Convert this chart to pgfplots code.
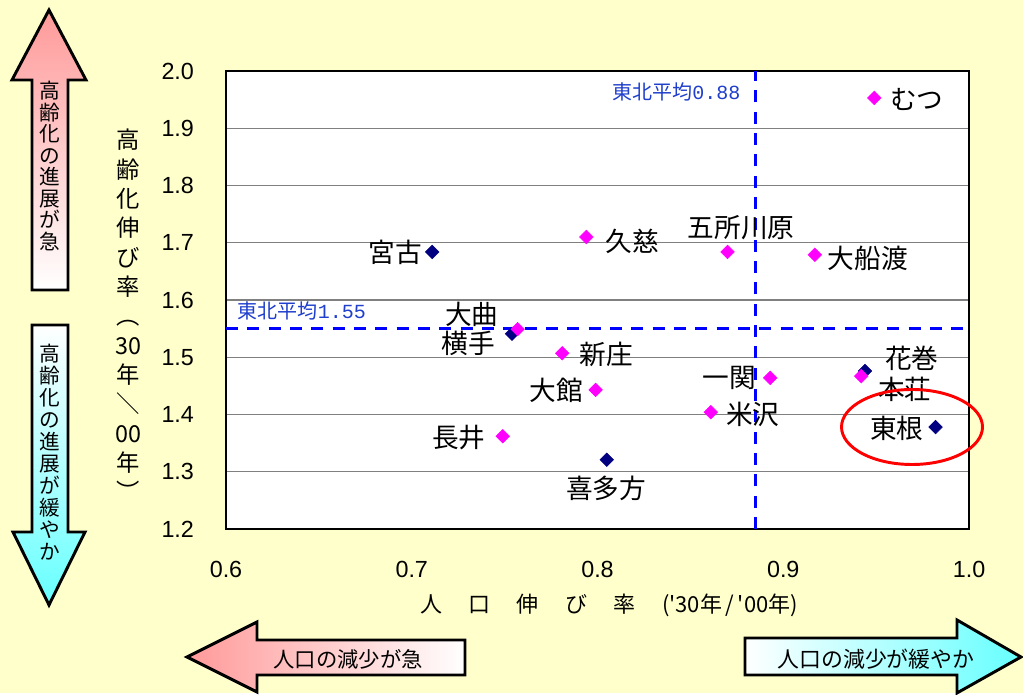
\documentclass[border=0pt]{standalone}
\usepackage{pgfplots}
\pgfplotsset{compat=1.18}
\usepackage{fontspec}
\setmainfont{Liberation Sans}
\newfontfamily\jp{Noto Sans CJK JP}
\newfontfamily\mono{Liberation Mono}
\definecolor{bgyellow}{HTML}{FFFFCC}
\definecolor{pinkA}{HTML}{FF9999}
\definecolor{cyanA}{HTML}{66FFFF}
\definecolor{magpt}{HTML}{FF00FF}
\definecolor{navypt}{HTML}{000080}
\definecolor{avgline}{HTML}{0000FF}
\definecolor{avgtext}{HTML}{1F3FCC}

% city data: population growth ratio vs. ageing growth ratio
\pgfplotstableread{
x      y
0.711  1.684
0.754  1.541
0.805  1.321
0.944  1.476
0.982  1.378
}\navycities
\pgfplotstableread{
x      y
0.949  1.953
0.794  1.710
0.870  1.684
0.917  1.679
0.757  1.549
0.781  1.507
0.799  1.443
0.749  1.362
0.893  1.464
0.861  1.404
0.942  1.467
}\magentacities

\begin{document}
\begin{tikzpicture}[x=0.75pt,y=0.75pt]
\fill[bgyellow] (0,0) rectangle (1023,693);

% direction arrows
\draw[line width=2.2pt, top color=pinkA, bottom color=white]
  (49,683) -- (86,613) -- (68,613) -- (68,403) -- (32,403) -- (32,613) -- (12,613) -- cycle;
\node[font=\jp\fontsize{15.5pt}{16.1pt}\selectfont, align=center] at (50,527)
  {高\\齢\\化\\の\\進\\展\\が\\急};
\draw[line width=2.2pt, top color=white, bottom color=cyanA]
  (32,368) -- (68,368) -- (68,161) -- (85,161) -- (49,88) -- (13,161) -- (32,161) -- cycle;
\node[font=\jp\fontsize{15.5pt}{16.5pt}\selectfont, align=center] at (50,241)
  {高\\齢\\化\\の\\進\\展\\が\\緩\\や\\か};
\draw[line width=2.2pt, left color=pinkA, right color=white]
  (187,36) -- (257,71) -- (257,53) -- (465,53) -- (465,18) -- (257,18) -- (257,1) -- cycle;
\node[font=\jp\fontsize{16pt}{17pt}\selectfont] at (348,34) {人口の減少が急};
\draw[line width=2.2pt, left color=white, right color=cyanA]
  (745,55) -- (957,55) -- (957,73) -- (1021,36) -- (957,0) -- (957,18) -- (745,18) -- cycle;
\node[font=\jp\fontsize{16.4pt}{17pt}\selectfont] at (876,34) {人口の減少が緩やか};

\begin{axis}[
  at={(169.5pt,123pt)}, anchor=south west,
  scale only axis, width=557.25pt, height=343.5pt,
  xmin=0.6, xmax=1.0, ymin=1.2, ymax=2.0,
  xtick={0.6,0.7,0.8,0.9,1.0},
  ytick={1.2,1.3,1.4,1.5,1.6,1.7,1.8,1.9,2.0},
  major tick length=0pt,
  ymajorgrids,
  grid style={draw=gray, line width=1pt},
  axis line style={line width=1.5pt},
  axis background/.style={fill=white},
  /pgf/number format/.cd, fixed, fixed zerofill, precision=1, assume math mode=true,
  /pgfplots/.cd,
  ticklabel style={font=\fontsize{17.5pt}{19pt}\selectfont},
  xticklabel style={yshift=-21pt},
  yticklabel style={xshift=-20.5pt},
  clip=false,
]
% Tohoku averages
\addplot[avgline, line width=2.2pt, dash pattern=on 9pt off 7pt] coordinates {(0.885,1.2) (0.885,2.0)};
\addplot[avgline, line width=2.2pt, dash pattern=on 9pt off 7pt] coordinates {(0.6,1.55) (1.0,1.55)};

\addplot[only marks, mark=square*, mark size=3.6pt,
  mark options={rotate=45, fill=navypt, draw=navypt}] table {\navycities};
\addplot[only marks, mark=square*, mark size=3.6pt,
  mark options={rotate=45, fill=magpt, draw=magpt}] table {\magentacities};

\node[font=\jp\fontsize{15pt}{16pt}\selectfont, text=avgtext, anchor=east] at (axis cs:0.8794,1.9633) {東北平均{\mono 0.88}};
\node[font=\jp\fontsize{15pt}{16pt}\selectfont, text=avgtext, anchor=west] at (axis cs:0.6038,1.5808) {東北平均{\mono 1.55}};

\begin{scope}[font=\jp\fontsize{20pt}{22pt}\selectfont]
\node at (axis cs:0.972,1.951) {むつ};
\node at (axis cs:0.691,1.684) {宮古};
\node at (axis cs:0.8186,1.703) {久慈};
\node at (axis cs:0.8773,1.726) {五所川原};
\node at (axis cs:0.9456,1.673) {大船渡};
\node at (axis cs:0.7324,1.5755) {大曲};
\node at (axis cs:0.7303,1.525) {横手};
\node at (axis cs:0.8046,1.5057) {新庄};
\node at (axis cs:0.7777,1.4428) {大館};
\node at (axis cs:0.7254,1.359) {長井};
\node at (axis cs:0.8046,1.2716) {喜多方};
\node at (axis cs:0.8708,1.4638) {一関};
\node at (axis cs:0.8837,1.4009) {米沢};
\node at (axis cs:0.9693,1.4987) {花巻};
\node at (axis cs:0.9655,1.4445) {本荘};
\node at (axis cs:0.9612,1.3764) {東根};
\end{scope}
\end{axis}

% highlight ring around Higashine
\draw[red, line width=2.2pt] (912,266) ellipse [x radius=70.5, y radius=37.5];

% axis titles
\node[font=\jp\fontsize{16.5pt}{18pt}\selectfont] at (609,88) {人\hspace{1.2em}口\hspace{1.2em}伸\hspace{1.2em}び\hspace{1.2em}率\hspace{1.2em}('30年\,/\,'00年)};
\node[font=\jp\fontsize{17.5pt}{22pt}\selectfont, align=center] at (128,378)
  {高\\齢\\化\\伸\\び\\率\\︵\\30\\年\\＼\\00\\年\\︶};
\end{tikzpicture}
\end{document}
